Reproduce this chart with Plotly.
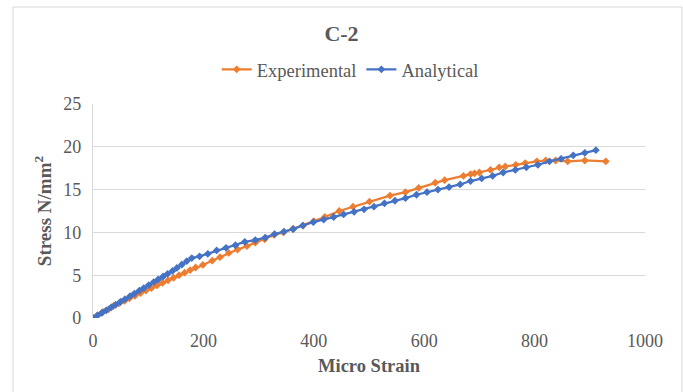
import plotly.graph_objects as go

exp_x = [0, 8, 18, 28, 37, 47, 57, 66, 76, 86, 96, 106, 116, 126, 136, 146, 156, 166, 176, 186,
         199, 216, 230, 246, 262, 279, 294, 311, 328, 345, 362, 381, 400, 420, 446, 471, 501,
         538, 566, 590, 620, 637, 671, 684, 691, 700, 720, 736, 747, 766, 783, 804, 820, 838,
         860, 891, 929]
exp_y = [0, 0.3, 0.7, 1.0, 1.4, 1.7, 2.0, 2.3, 2.6, 2.9, 3.2, 3.5, 3.8, 4.1, 4.4, 4.7, 5.0, 5.3, 5.6, 5.9,
         6.2, 6.7, 7.1, 7.6, 8.0, 8.4, 8.8, 9.2, 9.7, 10.0, 10.4, 10.8, 11.3, 11.8, 12.5, 13.0, 13.6,
         14.3, 14.7, 15.2, 15.8, 16.1, 16.6, 16.8, 16.9, 17.0, 17.3, 17.6, 17.7, 17.9, 18.1, 18.3, 18.4, 18.4,
         18.3, 18.4, 18.3]

ana_x = [0, 8, 16, 24, 33, 41, 50, 58, 67, 75, 84, 92, 101, 110, 118, 127, 135, 144, 152, 161, 170,
         179, 193, 208, 224, 241, 258, 275, 294, 312, 329, 346, 363, 380, 399, 418, 436, 454, 473,
         491, 509, 528, 547, 566, 586, 605, 625, 645, 665, 684, 704, 724, 743, 765, 785, 806, 827,
         848, 870, 891, 911]
ana_y = [0, 0.3, 0.6, 0.9, 1.25, 1.55, 1.9, 2.2, 2.55, 2.85, 3.2, 3.5, 3.85, 4.2, 4.5, 4.85, 5.15, 5.5, 5.85, 6.25, 6.65,
         7.0, 7.2, 7.5, 7.9, 8.2, 8.5, 8.9, 9.1, 9.4, 9.8, 10.1, 10.4, 10.8, 11.2, 11.5, 11.8, 12.1, 12.4,
         12.7, 13.0, 13.4, 13.7, 14.0, 14.4, 14.7, 15.0, 15.3, 15.6, 16.0, 16.3, 16.6, 17.0, 17.3, 17.6, 17.9, 18.3,
         18.6, 19.0, 19.3, 19.6]

series_names = ["Experimental", "Analytical"]
colors = ["#ED7D31", "#4472C4"]

FONT = "Liberation Serif"

fig = go.Figure()
for name, xs, ys, c in [(series_names[0], exp_x, exp_y, colors[0]),
                        (series_names[1], ana_x, ana_y, colors[1])]:
    fig.add_trace(go.Scatter(
        x=xs, y=ys, name=name, mode="lines+markers",
        line=dict(color=c, width=2.25),
        marker=dict(symbol="diamond", size=6, color=c),
    ))

fig.update_layout(
    width=683, height=392,
    margin=dict(l=93, r=38, t=104, b=74),
    paper_bgcolor="white", plot_bgcolor="white",
    font=dict(family=FONT, color="#595959", size=18),
    title=dict(text="<b>C-2</b>", x=0.5, xanchor="center", y=0.915, yanchor="middle",
               font=dict(family=FONT, size=22, color="#595959")),
    legend=dict(orientation="h", x=0.466, xanchor="center", y=1.16, yanchor="middle",
                font=dict(family=FONT, size=18.5, color="#595959"),
                itemwidth=30, tracegroupgap=0, bgcolor="rgba(0,0,0,0)"),
    xaxis=dict(range=[0, 1000], tickvals=[0, 200, 400, 600, 800, 1000], showgrid=False,
               zeroline=False, showline=False, ticks="", ticklabelstandoff=10,
               tickfont=dict(family=FONT, size=18, color="#595959"),
               title=dict(text="<b>Micro Strain</b>", standoff=9,
                          font=dict(family=FONT, size=18.5, color="#595959"))),
    yaxis=dict(range=[0, 25], tickvals=[0, 5, 10, 15, 20, 25], showgrid=True,
               gridcolor="#D9D9D9", gridwidth=1.3, zeroline=False,
               showline=True, linecolor="#D9D9D9", linewidth=1.3, ticks="", ticklabelstandoff=7,
               tickfont=dict(family=FONT, size=18, color="#595959"),
               title=dict(text="<b>Stress N/mm<sup>2</sup></b>", standoff=6,
                          font=dict(family=FONT, size=19, color="#595959"))),
    showlegend=True,
)

fig.add_shape(type="rect", xref="paper", yref="paper",
              x0=-0.145, x1=1.067, y0=-0.4, y1=1.453,
              line=dict(color="#D9D9D9", width=1), fillcolor="rgba(0,0,0,0)", layer="below")

fig.write_html("out.html")
